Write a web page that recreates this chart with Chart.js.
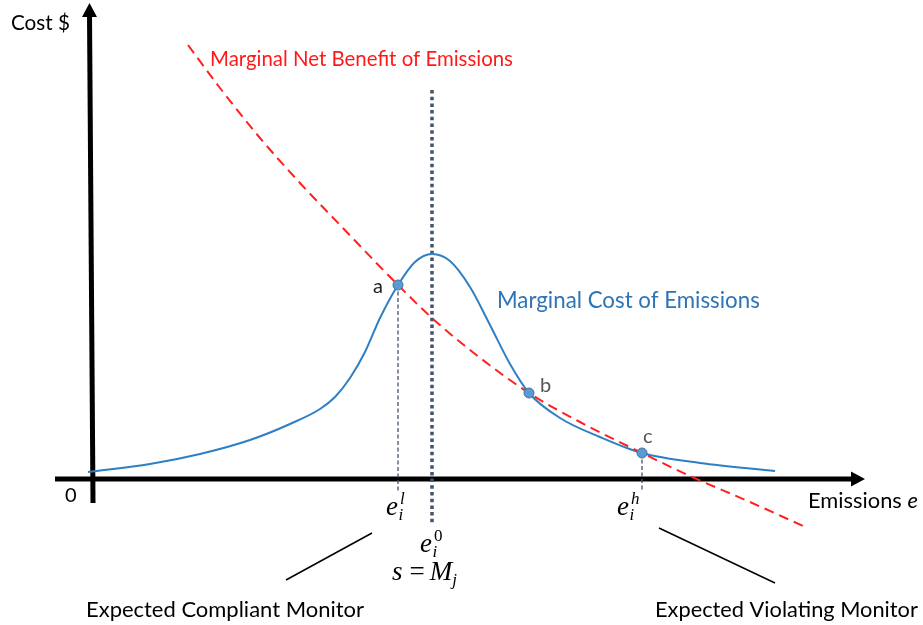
<!DOCTYPE html>
<html><head><meta charset="utf-8">
<script src="https://cdn.jsdelivr.net/npm/chart.js@4/dist/chart.umd.min.js"></script>
<style>html,body{margin:0;padding:0;background:#fff}#wrap{width:923px;height:625px}</style>
</head><body><div id="wrap"><canvas id="c" width="923" height="625"></canvas></div>
<script>
// Marginal cost of emissions (blue curve): emissions e vs cost $
const costE = [-0.3, 5.9, 10.9, 15.9, 19.9, 22.9, 24.4, 25.9, 27.4, 28.9, 30.7, 32.4, 34.1, 35.9, 37.9, 39.9, 41.9, 43.8, 46.9, 50.9, 55.1, 60.9, 68.4];
const costY = [0.7, 1.5, 2.5, 3.9, 5.5, 7.0, 8.2, 10.1, 12.7, 16.1, 19.4, 21.7, 22.5, 21.8, 19.2, 15.4, 11.5, 8.6, 6.1, 4.2, 2.6, 1.6, 0.8];
// Marginal net benefit of emissions (red dashed curve)
const benefitE = [9.7, 12.9, 16.9, 20.9, 24.9, 30.7, 34.1, 37.9, 43.8, 48.9, 55.1, 59.9, 65.9, 71.2];
const benefitY = [43.4, 39.1, 34.1, 29.6, 25.4, 19.4, 16.1, 12.9, 8.6, 5.7, 2.6, 0.3, -2.3, -4.7];
// Intersections of the two curves
const crossNames = ['a', 'b', 'c'];
const crossE = [30.7, 43.8, 55.1];
const crossY = [19.4, 8.6, 2.6];
// Expected emission level e_i^0 (dotted guide) and its vertical extent
const e0 = 34.1;
const e0Span = [38.9, -4.6];
// Foot of the thin guides below e_i^l and e_i^h
const guideFoot = -1.2;
// Leader lines to the monitor captions
const leaderLeftE = [19.5, 28.1], leaderLeftY = [-10.1, -5.4];
const leaderRightE = [56.8, 68.4], leaderRightY = [-4.9, -10.4];
// Axis extents (arrow tips)
const axisXStart = -3.6, axisXEnd = 77.4;
const axisYStart = -2.4, axisYEnd = 47.6;

const pts = (xs, ys) => xs.map((x, i) => ({x, y: ys[i]}));
const sans = 'Lato, "Open Sans", sans-serif';
const serif = '"Liberation Serif", "DejaVu Serif", serif';

// Text annotations placed in data coordinates (left edge, baseline)
const notes = [
  {text: 'Cost $', e: -8.0, c: 44.9, w: 59, color: '#000'},
  {text: 'Marginal Net Benefit of Emissions', e: 11.9, c: 41.3, w: 303, color: '#ff1a1a'},
  {text: 'Marginal Cost of Emissions', e: 40.6, c: 17.1, w: 263, color: '#2e75b6'},
  {text: 'Expected Compliant Monitor', e: -0.5, c: -13.8, w: 278, color: '#000'},
  {text: 'Expected Violating Monitor', e: 56.4, c: -13.8, w: 263, color: '#000'}
];
const letterPos = [{e: 28.2, c: 18.6, color: '#222'}, {e: 44.9, c: 8.7, color: '#555'}, {e: 55.2, c: 3.6, color: '#555'}];

function fitSize(ctx, text, width, style) {
  ctx.font = `${style} 100px ${sans}`;
  return 100 * width / ctx.measureText(text).width;
}

function drawArrowAxes(chart) {
  const ctx = chart.ctx, xs = chart.scales.x, ys = chart.scales.y;
  const ox = xs.getPixelForValue(0), oy = ys.getPixelForValue(0);
  const xEnd = xs.getPixelForValue(axisXEnd), yEnd = ys.getPixelForValue(axisYEnd);
  ctx.save();
  ctx.strokeStyle = '#000'; ctx.fillStyle = '#000'; ctx.lineWidth = 5; ctx.lineCap = 'butt';
  // horizontal axis
  ctx.beginPath();
  ctx.moveTo(xs.getPixelForValue(axisXStart), oy);
  ctx.lineTo(xEnd - 12, oy);
  ctx.stroke();
  ctx.beginPath();
  ctx.moveTo(xEnd, oy); ctx.lineTo(xEnd - 14, oy - 7.5); ctx.lineTo(xEnd - 14, oy + 7.5); ctx.closePath(); ctx.fill();
  // vertical axis (drawn with a slight lean)
  const topX = ox - 1.5, botX = ox + 2;
  ctx.beginPath();
  ctx.moveTo(botX, ys.getPixelForValue(axisYStart));
  ctx.lineTo(topX, yEnd + 12);
  ctx.stroke();
  ctx.beginPath();
  ctx.moveTo(topX, yEnd); ctx.lineTo(topX - 7.5, yEnd + 14); ctx.lineTo(topX + 7.5, yEnd + 14); ctx.closePath(); ctx.fill();
  ctx.restore();
}

function drawMath(ctx, x, y, parts) {
  let cx = x;
  for (const p of parts) {
    ctx.font = `${p.italic ? 'italic ' : ''}${p.size}px ${serif}`;
    cx += p.gap || 0;
    ctx.fillText(p.t, cx, y + (p.dy || 0));
    cx += ctx.measureText(p.t).width;
  }
}

function eSymbol(ctx, x, y, sup, supItalic) {
  ctx.font = `italic 27px ${serif}`;
  ctx.fillText('e', x, y);
  const w = ctx.measureText('e').width;
  ctx.font = `italic 17px ${serif}`;
  ctx.fillText('i', x + w + 0.5, y + 5);
  ctx.font = `${supItalic ? 'italic ' : ''}17px ${serif}`;
  ctx.fillText(sup, x + w + 2, y - 11);
}

const annotate = {
  id: 'annotate',
  beforeDatasetsDraw(chart) { drawArrowAxes(chart); },
  afterDraw(chart) {
    const ctx = chart.ctx, xs = chart.scales.x, ys = chart.scales.y;
    const P = (e, c) => [xs.getPixelForValue(e), ys.getPixelForValue(c)];
    ctx.save();
    ctx.textBaseline = 'alphabetic'; ctx.textAlign = 'left';
    for (const n of notes) {
      const s = fitSize(ctx, n.text, n.w, '');
      ctx.font = `${s}px ${sans}`;
      ctx.fillStyle = n.color;
      const [x, y] = P(n.e, n.c);
      ctx.fillText(n.text, x, y);
    }
    // origin label
    ctx.fillStyle = '#000';
    ctx.font = `20px ${sans}`;
    const [x0, y0] = P(-2.6, -2.3);
    ctx.fillText('0', x0, y0);
    // horizontal axis title: "Emissions e"
    {
      const [x, y] = P(71.7, -2.9);
      ctx.font = `19px ${sans}`;
      const w1 = ctx.measureText('Emissions ').width;
      ctx.font = `italic 19px ${sans}`;
      const w2 = ctx.measureText('e').width;
      const k = 110 / (w1 + w2);
      ctx.font = `${19 * k}px ${sans}`;
      ctx.fillText('Emissions ', x, y);
      ctx.font = `italic ${19 * k}px ${sans}`;
      ctx.fillText('e', x + w1 * k, y);
    }
    // intersection letters
    crossNames.forEach((t, i) => {
      const lp = letterPos[i];
      const [x, y] = P(lp.e, lp.c);
      ctx.fillStyle = lp.color;
      ctx.font = `20px ${sans}`;
      ctx.fillText(t, x, y);
    });
    // math labels
    ctx.fillStyle = '#000';
    const [xl, yl] = P(29.5, -3.6); eSymbol(ctx, xl, yl, 'l', true);
    const [xz, yz] = P(32.9, -7.3); eSymbol(ctx, xz, yz, '0', false);
    const [xh, yh] = P(52.6, -3.6); eSymbol(ctx, xh, yh, 'h', true);
    const [xm, ym] = P(30.1, -10.1);
    drawMath(ctx, xm, ym, [
      {t: 's', italic: true, size: 27},
      {t: '=', italic: false, size: 27, gap: 7},
      {t: 'M', italic: true, size: 27, gap: 5},
      {t: 'j', italic: true, size: 17, dy: 5, gap: 0}
    ]);
    ctx.restore();
  }
};

const guideColor = '#44546a';
new Chart(document.getElementById('c'), {
  type: 'scatter',
  data: {
    datasets: [
      {label: 'intersections', data: pts(crossE, crossY), pointRadius: 5, pointBackgroundColor: '#5b9bd5',
       pointBorderColor: '#41719c', pointBorderWidth: 1, showLine: false, order: 0},
      {label: 'Marginal Net Benefit of Emissions', data: pts(benefitE, benefitY), showLine: true, borderColor: '#ff2020',
       borderWidth: 2, borderDash: [10, 6], pointRadius: 0, cubicInterpolationMode: 'monotone', order: 1},
      {label: 'Marginal Cost of Emissions', data: pts(costE, costY), showLine: true, borderColor: '#2f7fc4',
       borderWidth: 2, pointRadius: 0, cubicInterpolationMode: 'monotone', order: 2},
      {label: 'e0', data: pts([e0, e0], e0Span), showLine: true, borderColor: guideColor, borderWidth: 3.5,
       borderDash: [3.5, 3.2], pointRadius: 0, order: 3},
      {label: 'el', data: pts([crossE[0], crossE[0]], [crossY[0], guideFoot]), showLine: true, borderColor: guideColor,
       borderWidth: 1.3, borderDash: [4, 2.5], pointRadius: 0, order: 4},
      {label: 'eh', data: pts([crossE[2], crossE[2]], [crossY[2], guideFoot]), showLine: true, borderColor: guideColor,
       borderWidth: 1.3, borderDash: [4, 2.5], pointRadius: 0, order: 4},
      {label: 'leaderL', data: pts(leaderLeftE, leaderLeftY), showLine: true, borderColor: '#000', borderWidth: 1.5,
       pointRadius: 0, order: 5},
      {label: 'leaderR', data: pts(leaderRightE, leaderRightY), showLine: true, borderColor: '#000', borderWidth: 1.5,
       pointRadius: 0, order: 5}
    ]
  },
  options: {
    responsive: false, animation: false, devicePixelRatio: 1,
    layout: {padding: 0, autoPadding: false},
    plugins: {legend: {display: false}, tooltip: {enabled: false}},
    scales: {
      x: {type: 'linear', display: false, min: -9.1, max: 83.2},
      y: {type: 'linear', display: false, min: -14.6, max: 47.9}
    }
  },
  plugins: [annotate]
});
</script>
</body></html>
